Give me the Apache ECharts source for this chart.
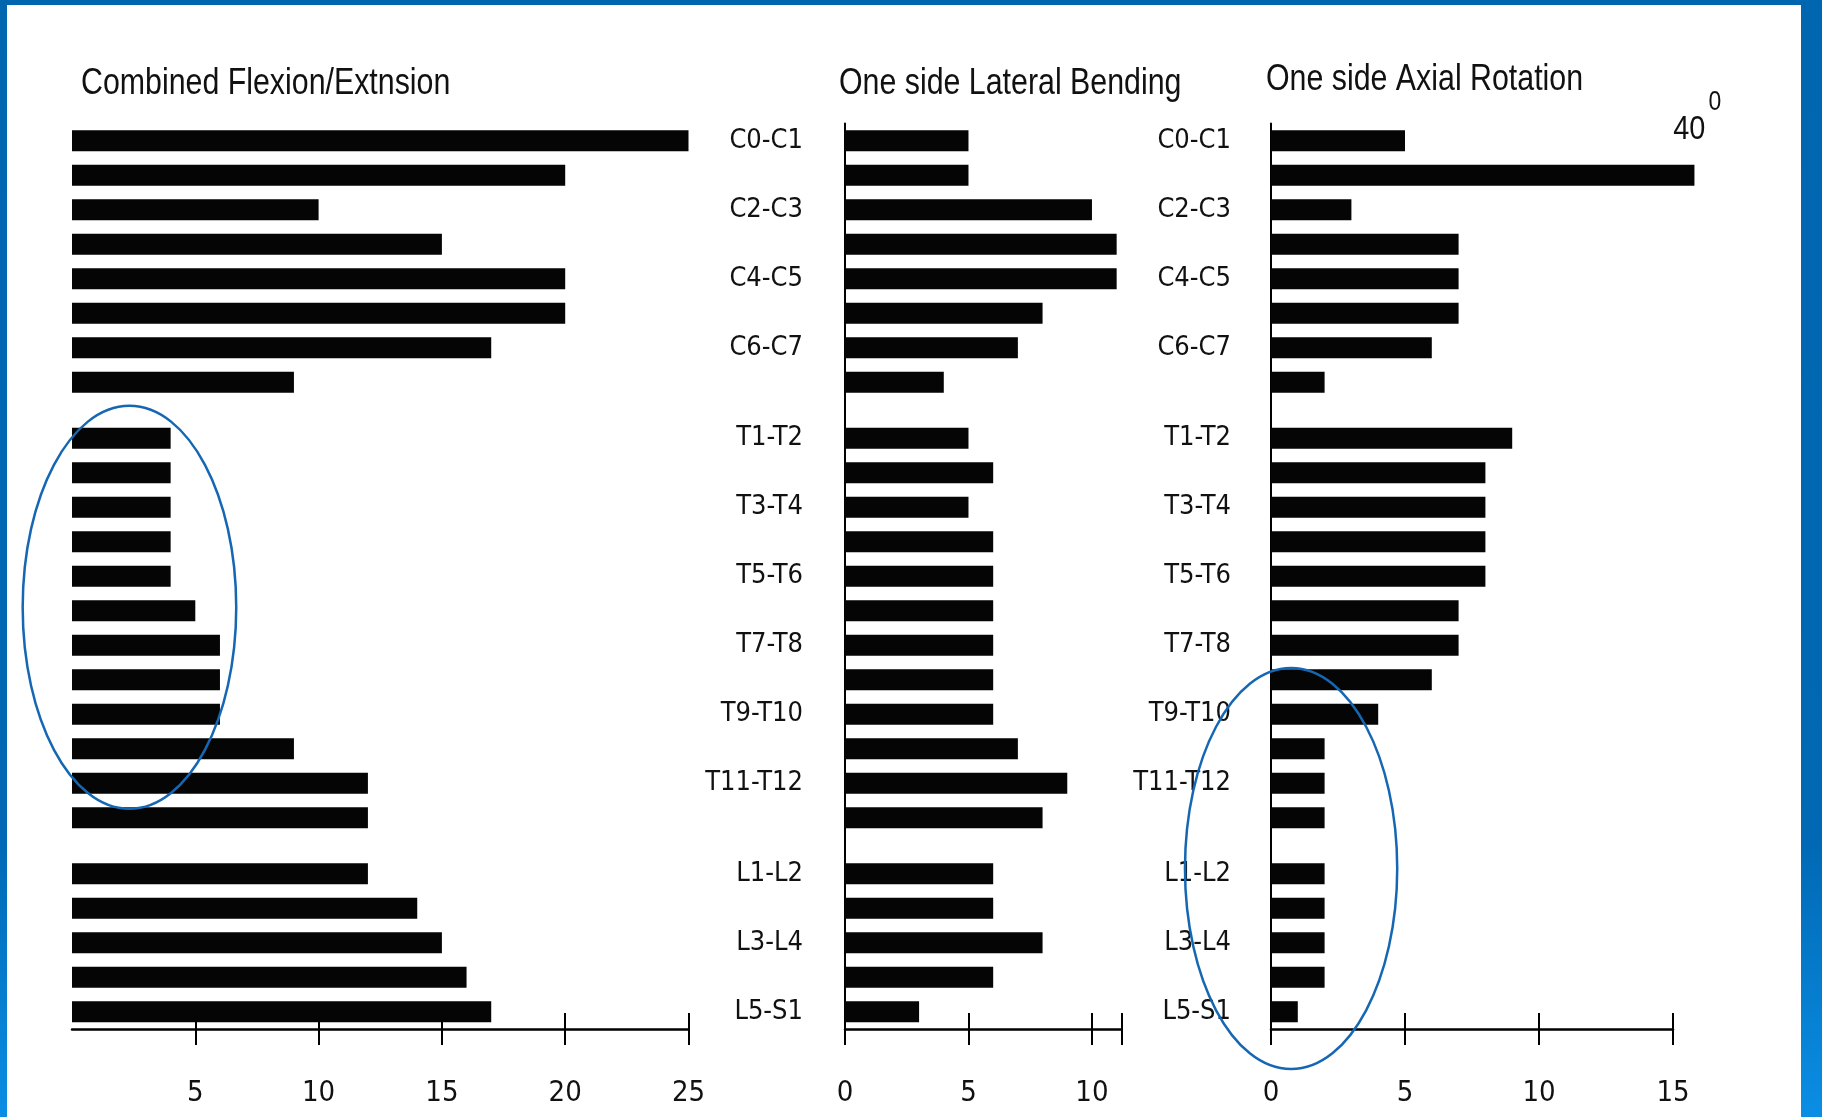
<!DOCTYPE html>
<html>
<head>
<meta charset="utf-8">
<script src="https://cdn.jsdelivr.net/npm/echarts@6/dist/echarts.min.js"></script>
<style>
  html, body { margin: 0; padding: 0; background: #fff; }
  #chart { width: 1822px; height: 1117px; }
</style>
</head>
<body>
<div id="chart"></div>
<script>
// spine levels, split in the three regions (a gap is left between them)
const cervical = ['C0-C1', 'C1-C2', 'C2-C3', 'C3-C4', 'C4-C5', 'C5-C6', 'C6-C7', 'C7-T1'];
const thoracic = ['T1-T2', 'T2-T3', 'T3-T4', 'T4-T5', 'T5-T6', 'T6-T7', 'T7-T8', 'T8-T9', 'T9-T10', 'T10-T11', 'T11-T12', 'T12-L1'];
const lumbar = ['L1-L2', 'L2-L3', 'L3-L4', 'L4-L5', 'L5-S1'];

// degrees
const flexExt = [25, 20, 10, 15, 20, 20, 17, 9, 4, 4, 4, 4, 4, 5, 6, 6, 6, 9, 12, 12, 12, 14, 15, 16, 17];
const latBend = [5, 5, 10, 11, 11, 8, 7, 4, 5, 6, 5, 6, 6, 6, 6, 6, 6, 7, 9, 8, 6, 6, 8, 6, 3];
const axialRot = [5, 40, 3, 7, 7, 7, 6, 2, 9, 8, 8, 8, 8, 7, 7, 6, 4, 2, 2, 2, 2, 2, 2, 2, 1];

const titles = ['Combined Flexion/Extnsion', 'One side Lateral Bending', 'One side Axial Rotation'];
const flexTicks = [5, 10, 15, 20, 25];
const bendTicks = [0, 5, 10, 11.2];
const rotTicks = [0, 5, 10, 15];

// the C1-C2 rotation bar is drawn broken at this length
const AXIAL_CAP = 15.8;

// circled regions: [value, level position, radius in value, radius in levels]
const circleFlex = [2.33, 13.52, 4.33, 5.84];
const circleAxial = [0.75, 21.09, 3.96, 5.81];

const FONT = '"DejaVu Sans Condensed", "Liberation Sans", sans-serif';
const TITLE_FONT = '"Liberation Sans", Arial, sans-serif';
const GAP = 0.62;
const BAR_W = 0.61;

// #region positions
const positions = [];
const labelPos = [];
const labelName = {};
let start = 0;
[cervical, thoracic, lumbar].forEach(group => {
  group.forEach((name, j) => {
    const p = start + j;
    positions.push(p);
    if (j % 2 === 0) {
      labelPos.push(p);
      labelName[p.toFixed(2)] = name;
    }
  });
  start += group.length + GAP;
});
const Y_MIN = -0.5;
const Y_MAX = positions[positions.length - 1] + 0.5;
// #endregion

const chart = echarts.init(document.getElementById('chart'), null, { renderer: 'canvas' });

function makeSeries(values, idx, cap) {
  return {
    type: 'custom',
    xAxisIndex: idx * 2,
    yAxisIndex: idx,
    encode: { x: 1, y: 0 },
    data: values.map((v, i) => [positions[i], v]),
    renderItem: function (params, api) {
      const pos = api.value(0);
      const v = api.value(1);
      const shown = cap ? Math.min(v, cap) : v;
      const a = api.coord([0, pos]);
      const b = api.coord([shown, pos]);
      const h = api.size([0, BAR_W])[1];
      const rect = {
        type: 'rect',
        shape: { x: a[0], y: a[1] - h / 2, width: b[0] - a[0], height: h },
        style: { fill: '#050505' }
      };
      if (!cap || v <= cap) return rect;
      return {
        type: 'group',
        children: [
          rect,
          { type: 'text', x: b[0] + 11, y: a[1] - 46, scaleX: 0.85,
            style: { text: String(v), fontSize: 34, fontFamily: TITLE_FONT, fill: '#111', align: 'right', verticalAlign: 'middle' } },
          { type: 'text', x: b[0] + 14, y: a[1] - 73, scaleX: 0.85,
            style: { text: '0', fontSize: 27, fontFamily: TITLE_FONT, fill: '#111', align: 'left', verticalAlign: 'middle' } }
        ]
      };
    }
  };
}

function xAxes(gridIndex, max, ticks) {
  const base = {
    gridIndex: gridIndex, type: 'value', min: 0, max: max, interval: 5,
    position: 'bottom', splitLine: { show: false }
  };
  const labels = ticks.filter(v => v % 5 === 0);
  return [
    Object.assign({}, base, {
      axisLine: { show: true, onZero: false, lineStyle: { color: '#000', width: 2.5 } },
      axisTick: { show: true, customValues: ticks, length: 16, lineStyle: { color: '#000', width: 2 } },
      axisLabel: {
        customValues: labels, margin: 50, fontSize: 29, fontFamily: FONT, color: '#111'
      }
    }),
    Object.assign({}, base, {
      axisLine: { show: false, onZero: false },
      axisTick: { show: true, customValues: ticks, inside: true, length: 16, lineStyle: { color: '#000', width: 2 } },
      axisLabel: { show: false }
    })
  ];
}

function yAxis(gridIndex, show, margin) {
  return {
    gridIndex: gridIndex, type: 'value', inverse: true, min: Y_MIN, max: Y_MAX,
    show: show,
    splitLine: { show: false },
    axisLine: { show: true, onZero: false, lineStyle: { color: '#000', width: 2 } },
    axisTick: { show: false },
    axisLabel: {
      customValues: labelPos, margin: margin, fontSize: 27, fontFamily: FONT, color: '#111',
      formatter: v => labelName[Number(v).toFixed(2)] || ''
    }
  };
}

const option = {
  animation: false,
  backgroundColor: '#fff',
  grid: [
    { left: 72, top: 123.5, width: 616.5, height: 905.5 },
    { left: 845, top: 123.5, width: 276.6, height: 905.5 },
    { left: 1271, top: 123.5, width: 402, height: 905.5 }
  ],
  xAxis: [].concat(xAxes(0, 25, flexTicks), xAxes(1, 11.2, bendTicks), xAxes(2, 15, rotTicks)),
  yAxis: [yAxis(0, false, 0), yAxis(1, true, 42), yAxis(2, true, 40)],
  series: [
    makeSeries(flexExt, 0, null),
    makeSeries(latBend, 1, null),
    makeSeries(axialRot, 2, AXIAL_CAP)
  ]
};

chart.setOption(option);

// #region titles, annotations and frame
function ring(c, gridIndex) {
  const xi = gridIndex * 2;
  const center = chart.convertToPixel({ xAxisIndex: xi, yAxisIndex: gridIndex }, [c[0], c[1]]);
  const edge = chart.convertToPixel({ xAxisIndex: xi, yAxisIndex: gridIndex }, [c[0] + c[2], c[1] + c[3]]);
  return {
    type: 'ellipse', z: 100,
    shape: { cx: center[0], cy: center[1], rx: Math.abs(edge[0] - center[0]), ry: Math.abs(edge[1] - center[1]) },
    style: { fill: 'none', stroke: '#1667b3', lineWidth: 2.5 }
  };
}

function titleText(text, x, y) {
  return {
    type: 'text', x: x, y: y, scaleX: 0.82,
    style: { text: text, fontSize: 37, fontFamily: TITLE_FONT, fill: '#111', align: 'left', verticalAlign: 'middle' }
  };
}

const frameFill = new echarts.graphic.LinearGradient(0, 0, 0, 1, [
  { offset: 0, color: '#0066b0' },
  { offset: 0.75, color: '#0068b4' },
  { offset: 1, color: '#0a8ee4' }
]);

chart.setOption({
  graphic: [
    titleText(titles[0], 81, 84),
    titleText(titles[1], 839, 84),
    titleText(titles[2], 1266, 80),
    ring(circleFlex, 0),
    ring(circleAxial, 2),
    { type: 'rect', z: 200, shape: { x: 0, y: 0, width: 1822, height: 5 }, style: { fill: '#0066b0' } },
    { type: 'rect', z: 200, shape: { x: 0, y: 0, width: 7, height: 1117 }, style: { fill: frameFill } },
    { type: 'rect', z: 200, shape: { x: 1801, y: 0, width: 21, height: 1117 }, style: { fill: frameFill } }
  ]
});
// #endregion
</script>
</body>
</html>
